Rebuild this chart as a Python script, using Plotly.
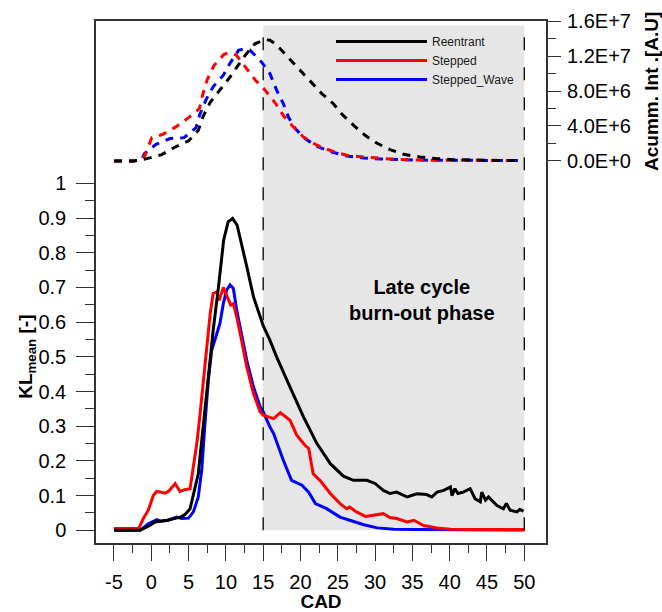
import plotly.graph_objects as go

# ---------------- data ----------------
# KL_mean (left axis)
kl_re_x = [-5, -1.5, -0.2, 0.5, 2.1, 3.9, 4.5, 5.2, 6.3, 7.0, 7.65, 8.3, 9.0, 9.7, 10.3, 10.9,
           11.5, 12.1, 12.8, 13.7, 14.6, 15.0, 15.9, 16.8, 18.6, 20.4, 22.2, 24.0, 25.75, 27.1,
           28.9, 30.0, 31.1, 32.0, 32.9, 34.3, 35.6, 36.9, 37.6, 38.3, 39.2, 40.1, 40.3, 40.7,
           41.1, 41.8, 42.75, 43.4, 44.1, 44.3, 44.8, 45.2, 46.3, 47.2, 47.6, 48.1, 49.0, 49.4, 49.9]
kl_re_y = [0, 0, 0.014, 0.024, 0.029, 0.038, 0.045, 0.062, 0.163, 0.31, 0.45, 0.577, 0.70, 0.836,
           0.889, 0.899, 0.88, 0.827, 0.76, 0.673, 0.615, 0.59, 0.548, 0.50, 0.413, 0.327, 0.25,
           0.192, 0.156, 0.144, 0.144, 0.135, 0.115, 0.106, 0.11, 0.096, 0.105, 0.103, 0.096,
           0.11, 0.115, 0.125, 0.1, 0.12, 0.106, 0.11, 0.12, 0.091, 0.082, 0.11, 0.087, 0.096,
           0.072, 0.062, 0.077, 0.058, 0.053, 0.06, 0.055]

kl_st_x = [-5, -1.7, -1.07, -0.4, 0.27, 0.72, 1.3, 1.84, 2.3, 3.2, 3.85, 4.5, 5.2, 5.64, 6.1, 6.5,
           7.0, 7.4, 7.9, 8.3, 8.8, 9.1, 9.66, 10.2, 10.65, 11.0, 11.45, 12.1, 12.8, 13.7, 14.6,
           15.0, 16.4, 17.3, 18.6, 19.5, 20.6, 21.1, 21.7, 22.6, 24.0, 25.3, 26.2, 26.6, 27.5,
           28.7, 29.8, 31.1, 32.0, 32.9, 34.3, 35.2, 36.5, 38.3, 40.1, 45, 50]
kl_st_y = [0.005, 0.005, 0.034, 0.058, 0.10, 0.112, 0.11, 0.107, 0.112, 0.135, 0.112, 0.117, 0.12,
           0.183, 0.25, 0.327, 0.442, 0.519, 0.625, 0.683, 0.687, 0.663, 0.70, 0.673, 0.649, 0.653,
           0.615, 0.548, 0.471, 0.394, 0.341, 0.332, 0.322, 0.339, 0.317, 0.274, 0.245, 0.236,
           0.163, 0.144, 0.106, 0.077, 0.0625, 0.067, 0.053, 0.04, 0.043, 0.048, 0.037, 0.034,
           0.024, 0.029, 0.014, 0.007, 0.003, 0.002, 0.002]

kl_sw_x = [-5, -1.5, -0.4, 0.73, 1.3, 2.3, 3.4, 4.1, 5.0, 5.64, 6.3, 6.76, 7.2, 7.65, 8.1, 8.5, 9.2,
           9.66, 10.1, 10.56, 11.0, 11.45, 12.1, 12.8, 13.7, 14.6, 15.0, 15.9, 16.4, 17.7, 18.8,
           20.2, 21.1, 22.0, 23.5, 25.3, 26.6, 28.5, 30.3, 32.5, 35.6, 50]
kl_sw_y = [0, 0, 0.019, 0.031, 0.026, 0.029, 0.038, 0.034, 0.035, 0.053, 0.096, 0.173, 0.308, 0.433,
           0.519, 0.548, 0.596, 0.654, 0.692, 0.707, 0.697, 0.635, 0.567, 0.49, 0.413, 0.356, 0.342,
           0.298, 0.279, 0.202, 0.144, 0.13, 0.11, 0.077, 0.0625, 0.038, 0.029, 0.016, 0.007,
           0.003, 0.002, 0.001]

# Accumulated intensity (right axis)
ai_re_x = [-5, -2.4, -0.6, 1.4, 3.2, 5.0, 6.3, 7.0, 7.9, 9.2, 10.56, 11.45, 12.6, 13.9, 15.25, 15.9,
           16.8, 17.3, 18.6, 19.95, 21.5, 22.86, 24.4, 25.5, 27.1, 28.7, 30.2, 32.0, 33.8, 36.0,
           38.3, 40.5, 45, 49.5]
ai_re_y = [0, 0, 2.7e5, 7.3e5, 1.6e6, 2.3e6, 3.5e6, 5.2e6, 6.7e6, 8.1e6, 9.6e6, 1.07e7, 1.21e7,
           1.34e7, 1.387e7, 1.38e7, 1.33e7, 1.28e7, 1.16e7, 1.037e7, 9.0e6, 7.7e6, 6.55e6, 5.4e6,
           4.1e6, 2.9e6, 2.06e6, 1.3e6, 7.7e5, 4.6e5, 2.7e5, 1.5e5, 8e4, 5e4]

ai_st_x = [-5, -2.4, -1.3, -0.84, 0.06, 1.54, 3.3, 5.0, 6.45, 6.9, 7.5, 8.4, 9.75, 10.3, 11.4,
           12.7, 14.0, 15.25, 16.6, 17.7, 19.05, 20.4, 22.2, 24.2, 26.2, 28.45, 30.2, 32.5, 36.5,
           42, 49.5]
ai_st_y = [0, 0, 1e5, 6.5e5, 2.67e6, 3.05e6, 3.9e6, 4.96e6, 5.99e6, 7.6e6, 9.3e6, 1.09e7, 1.22e7,
           1.235e7, 1.21e7, 1.07e7, 9.2e6, 8.1e6, 6.65e6, 5.2e6, 3.9e6, 2.74e6, 1.8e6, 1.14e6,
           6.5e5, 4.6e5, 3.4e5, 2e5, 1e5, 6e4, 5e4]

ai_sw_x = [-5, -2.4, -1.3, -0.93, 0.63, 2.5, 4.4, 6.0, 6.5, 7.34, 8.3, 9.66, 10.5, 11.7, 12.5, 13.2,
           14.8, 15.9, 16.8, 17.7, 18.4, 19.3, 20.6, 22.2, 24.2, 26.2, 28.45, 30.7, 36, 42, 49.5]
ai_sw_y = [0, 0, 1e5, 8.4e5, 1.9e6, 2.56e6, 2.67e6, 3.8e6, 5.3e6, 7.0e6, 8.5e6, 9.8e6, 1.11e7,
           1.265e7, 1.285e7, 1.27e7, 1.13e7, 9.99e6, 8.1e6, 6.55e6, 5.0e6, 3.7e6, 2.56e6, 1.68e6,
           1.03e6, 5.7e5, 3.4e5, 2.3e5, 1e5, 6e4, 5e4]

series_names = ["Reentrant", "Stepped", "Stepped_Wave"]
series_colors = ["#000000", "#ff0000", "#0000ff"]

x_ticks = list(range(-5, 51, 5))
x_ticktext = ["-5", "0", "5", "10", "15", "20", "25", "30", "35", "40", "45", "50"]
x_minor = [v + 2.5 for v in range(-5, 50, 5)]
kl_ticks = [i / 10 for i in range(0, 11)]
kl_ticktext = ["0", "0.1", "0.2", "0.3", "0.4", "0.5", "0.6", "0.7", "0.8", "0.9", "1"]
kl_minor = [0.05 + i / 10 for i in range(10)]
ai_ticks = [0, 4e6, 8e6, 1.2e7, 1.6e7]
ai_ticktext = ["0.0E+0", "4.0E+6", "8.0E+6", "1.2E+7", "1.6E+7"]
ai_minor = [2e6, 6e6, 1.0e7, 1.4e7]

FONT = "Liberation Sans, Arial, sans-serif"
AX = "#333333"

fig = go.Figure()

kl_data = [(kl_re_x, kl_re_y), (kl_st_x, kl_st_y), (kl_sw_x, kl_sw_y)]
ai_data = [(ai_re_x, ai_re_y), (ai_st_x, ai_st_y), (ai_sw_x, ai_sw_y)]

# draw blue, red, black (black on top)
for i in [2, 1, 0]:
    xs, ys = ai_data[i]
    fig.add_trace(go.Scatter(x=xs, y=ys, yaxis="y2", mode="lines", showlegend=False,
                             line=dict(color=series_colors[i], width=3, dash="8px,7px"),
                             hoverinfo="skip"))
for i in [2, 1, 0]:
    xs, ys = kl_data[i]
    fig.add_trace(go.Scatter(x=xs, y=ys, mode="lines", name=series_names[i],
                             legendrank=i + 1,
                             line=dict(color=series_colors[i], width=3)))

# shaded late-cycle region
fig.add_shape(type="rect", xref="x", yref="y", x0=15, x1=50, y0=0, y1=1.455,
              fillcolor="#e6e6e6", line=dict(width=0), layer="below")
for xv in [15, 50]:
    fig.add_shape(type="line", xref="x", yref="y", x0=xv, x1=xv, y0=0, y1=1.44,
                  line=dict(color="#000000", width=1.3, dash="13px,17px"), layer="above")

fig.add_annotation(x=36.25, y=0.665, xref="x", yref="y", text="<b>Late cycle<br>burn-out phase</b>",
                   showarrow=False, font=dict(family=FONT, size=20, color="#000000"), align="center")

fig.add_annotation(x=-0.1533, y=0.5, xref="paper", yref="y", xanchor="center", yanchor="middle",
                   text="<b>KL<sub>mean</sub> [-]</b>",
                   showarrow=False, textangle=-90, font=dict(family=FONT, size=19, color="#000000"))
fig.add_annotation(x=1.2333, y=8e6, xref="paper", yref="y2", xanchor="center", yanchor="middle",
                   text="<b>Acumm. Int .[A.U]</b>",
                   showarrow=False, textangle=-90, font=dict(family=FONT, size=19, color="#000000"))

fig.update_layout(
    width=662, height=612,
    margin=dict(l=96, r=116, t=21, b=69, autoexpand=False),
    paper_bgcolor="white", plot_bgcolor="white",
    font=dict(family=FONT, size=20, color="#000000"),
    showlegend=True,
    legend=dict(x=0.5222, y=0.9885, xanchor="left", yanchor="top", bgcolor="rgba(0,0,0,0)",
                itemwidth=91, font=dict(family=FONT, size=12, color="#1a1a1a"),
                traceorder="normal"),
    xaxis=dict(range=[-7.41, 52.91], tickmode="array", tickvals=x_ticks, ticktext=x_ticktext,
               ticks="outside", ticklen=16, tickwidth=1, tickcolor=AX, automargin=False,
               ticklabelstandoff=4,
               minor=dict(tickmode="array", tickvals=x_minor, ticks="outside", ticklen=8,
                          tickwidth=1, tickcolor=AX),
               showline=True, linecolor=AX, linewidth=1.5, mirror=True,
               showgrid=False, zeroline=False,
               title=dict(text="<b>CAD</b>", font=dict(size=19), standoff=8)),
    yaxis=dict(range=[-0.0366, 1.468], tickmode="array", tickvals=kl_ticks, ticktext=kl_ticktext,
               ticks="outside", ticklen=18, tickwidth=1, tickcolor=AX, automargin=False,
               ticklabelstandoff=6,
               minor=dict(tickmode="array", tickvals=kl_minor, ticks="outside", ticklen=9,
                          tickwidth=1, tickcolor=AX),
               showline=True, linecolor=AX, linewidth=1.5, mirror=True,
               showgrid=False, zeroline=False),
    yaxis2=dict(range=[-4.366e7, 1.6e7], overlaying="y", side="right", anchor="x",
                tickmode="array", tickvals=ai_ticks, ticktext=ai_ticktext, automargin=False,
                ticks="outside", ticklen=14, tickwidth=1, tickcolor=AX, ticklabelstandoff=2,
                minor=dict(tickmode="array", tickvals=ai_minor, ticks="outside", ticklen=9,
                           tickwidth=1, tickcolor=AX),
                showline=False, showgrid=False, zeroline=False),
)

# remove the browser's default page margin so the 662x612 figure fills the window exactly
fig.write_html("out.html", config={"displayModeBar": False},
               post_script="document.body.style.margin='0';document.body.style.overflow='hidden';")
